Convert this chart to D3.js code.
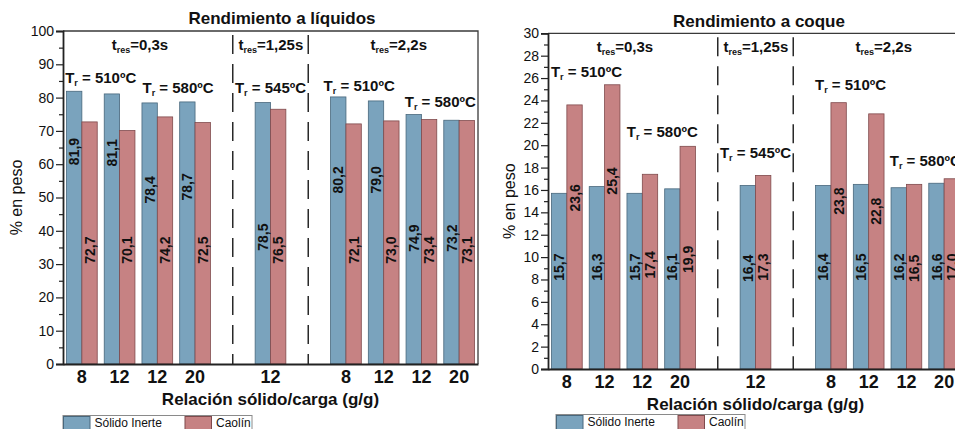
<!DOCTYPE html>
<html>
<head>
<meta charset="utf-8">
<script src="https://cdn.jsdelivr.net/npm/d3@7/dist/d3.min.js"></script>
<style>
  html, body { margin: 0; padding: 0; background: #fff; }
  svg { display: block; font-family: "Liberation Sans", Arial, sans-serif; }
</style>
</head>
<body>
<svg id="chart" width="955" height="429"></svg>
<script>
// ---- data -------------------------------------------------------------
// band slots: four groups at t_res=0,3s, one at 1,25s, four at 2,2s,
// with an empty separator slot between the residence-time blocks
const slots = ["a8", "a12", "b12", "b20", "sep1", "c12", "sep2", "d8", "d12", "e12", "e20"];
const groups = ["a8", "a12", "b12", "b20", "c12", "d8", "d12", "e12", "e20"];
const ratioLabels = ["8", "12", "12", "20", "12", "8", "12", "12", "20"];
const seriesNames = ["Sólido Inerte", "Caolín"];

// yields (% en peso)
const liquidInert = [81.9, 81.1, 78.4, 78.7, 78.5, 80.2, 79.0, 74.9, 73.2];
const liquidKaolin = [72.7, 70.1, 74.2, 72.5, 76.5, 72.1, 73.0, 73.4, 73.1];
const cokeInert = [15.7, 16.3, 15.7, 16.1, 16.4, 16.4, 16.5, 16.2, 16.6];
const cokeKaolin = [23.6, 25.4, 17.4, 19.9, 17.3, 23.8, 22.8, 16.5, 17.0];

// axis ticks
const liquidTicks = d3.range(0, 101, 10);
const liquidMinor = d3.range(5, 100, 10);
const cokeTicks = d3.range(0, 31, 2);
const cokeMinor = d3.range(1, 30, 2);

// where each rotated value label sits along its bar (axis units)
const liquidInertLabelAt = [63.8, 63.4, 52.3, 53.2, 38.1, 55.3, 55.3, 37.8, 37.8];
const liquidKaolinLabelAt = [34.2, 34.2, 34.2, 34.2, 34.2, 34.2, 34.2, 34.2, 34.2];
const cokeInertLabelAt = [9.1, 9.1, 9.1, 9.1, 9.0, 9.1, 9.1, 9.1, 9.1];
const cokeKaolinLabelAt = [15.3, 16.8, 9.3, 9.8, 9.1, 15.0, 14.1, 9.0, 9.1];

// residence-time headers and reactor temperature notes (slot position, axis value)
const liquidHeaders = [
  { t: "0,3s", s: 2.04, v: 94.3 }, { t: "1,25s", s: 5.51, v: 94.3 }, { t: "2,2s", s: 8.9, v: 94.3 }
];
const liquidTemps = [
  { t: "510ºC", s: 1.0, v: 84.4 }, { t: "580ºC", s: 3.05, v: 81.4 },
  { t: "545ºC", s: 5.5, v: 81.5 }, { t: "510ºC", s: 7.85, v: 82.1 }, { t: "580ºC", s: 10.0, v: 77.2 }
];
const cokeHeaders = [
  { t: "0,3s", s: 2.04, v: 28.36 }, { t: "1,25s", s: 5.51, v: 28.36 }, { t: "2,2s", s: 8.9, v: 28.36 }
];
const cokeTemps = [
  { t: "510ºC", s: 1.02, v: 26.1 }, { t: "580ºC", s: 3.03, v: 20.7 },
  { t: "545ºC", s: 5.5, v: 18.9 }, { t: "510ºC", s: 8.02, v: 24.9 }, { t: "580ºC", s: 10.0, v: 18.1 }
];

// ---- drawing ----------------------------------------------------------
const colors = { fill: ["#7aa3bd", "#c68283"], stroke: ["#48677c", "#7f4a4c"] };
const svg = d3.select("#chart");

function panel(cfg) {
  const g = svg.append("g");
  const x = d3.scaleBand().domain(slots).range([cfg.left, cfg.right]).paddingInner(0).paddingOuter(0);
  const sx = d3.scaleLinear().domain([0, slots.length]).range([cfg.left, cfg.right]);
  const y = d3.scaleLinear().domain(cfg.domain).range([cfg.bottom, cfg.top]);
  const barW = x.bandwidth() * 0.407;

  // frame (top and right)
  g.append("path")
    .attr("d", `M${cfg.left},${cfg.top}H${cfg.right}V${cfg.bottom}`)
    .attr("fill", "none").attr("stroke", "#3a3a3a").attr("stroke-width", 1.3);

  // separators between residence-time blocks
  ["sep1", "sep2"].forEach(k => {
    const cx = x(k) + x.bandwidth() / 2;
    g.append("line")
      .attr("x1", cx).attr("x2", cx).attr("y1", cfg.top + 4).attr("y2", cfg.bottom)
      .attr("stroke", "#1a1a1a").attr("stroke-width", 1.4).attr("stroke-dasharray", "19,10");
  });

  // bars
  const series = [cfg.a, cfg.b];
  const labelAt = [cfg.aLabel, cfg.bLabel];
  series.forEach((vals, si) => {
    g.append("g").selectAll("rect").data(vals).join("rect")
      .attr("x", (d, i) => x(groups[i]) + x.bandwidth() / 2 - barW + si * barW)
      .attr("y", d => y(d))
      .attr("width", barW)
      .attr("height", d => y(0) - y(d))
      .attr("fill", colors.fill[si])
      .attr("stroke", colors.stroke[si]).attr("stroke-width", 0.8);
  });
  series.forEach((vals, si) => {
    g.append("g").selectAll("text").data(vals).join("text")
      .attr("transform", (d, i) => {
        const cx = x(groups[i]) + x.bandwidth() / 2 - barW / 2 + si * barW;
        return `translate(${cx},${y(labelAt[si][i])}) rotate(-90)`;
      })
      .attr("text-anchor", "middle").attr("dy", "0.36em")
      .attr("font-size", 14).attr("font-weight", "bold").attr("fill", "#111")
      .text(d => d.toFixed(1).replace(".", ","));
  });

  // y axis
  const yAxis = d3.axisLeft(y).tickValues(cfg.ticks).tickSize(7).tickPadding(2).tickFormat(d3.format("d"));
  const ya = g.append("g").attr("transform", `translate(${cfg.left},0)`).call(yAxis);
  ya.selectAll("text").attr("font-size", 14).attr("fill", "#111").attr("font-family", null);
  ya.select(".domain").attr("stroke", "#222").attr("stroke-width", 1.8);
  ya.selectAll(".tick line").attr("stroke", "#222").attr("stroke-width", 1.2);
  g.append("g").attr("transform", `translate(${cfg.left},0)`)
    .call(d3.axisLeft(y).tickValues(cfg.minor).tickSize(4).tickFormat(""))
    .call(s => s.select(".domain").remove())
    .selectAll("line").attr("stroke", "#222").attr("stroke-width", 1.2);

  // x axis
  const xAxis = d3.axisBottom(x).tickValues(groups).tickSize(0).tickPadding(6)
    .tickFormat(k => ratioLabels[groups.indexOf(k)]);
  const xa = g.append("g").attr("transform", `translate(0,${cfg.bottom})`).call(xAxis);
  xa.selectAll("text").attr("font-size", 18).attr("font-weight", "bold").attr("fill", "#111").attr("font-family", null);
  xa.select(".domain").attr("stroke", "#222").attr("stroke-width", 1.8);

  // titles
  g.append("text").attr("x", cfg.titleX).attr("y", cfg.titleY).attr("text-anchor", "middle")
    .attr("font-size", 17).attr("font-weight", "bold").attr("fill", "#111").text(cfg.title);
  g.append("text").attr("x", (cfg.left + cfg.right) / 2).attr("y", cfg.bottom + 41)
    .attr("text-anchor", "middle")
    .attr("font-size", 17).attr("font-weight", "bold").attr("fill", "#111")
    .text("Relación sólido/carga (g/g)");
  g.append("text")
    .attr("transform", `translate(${cfg.yTitleX},${(cfg.top + cfg.bottom) / 2}) rotate(-90)`)
    .attr("text-anchor", "middle").attr("dy", "0.35em")
    .attr("font-size", 16).attr("fill", "#111").text("% en peso");

  // residence-time headers
  cfg.headers.forEach(h => {
    const t = g.append("text").attr("x", sx(h.s)).attr("y", y(h.v)).attr("text-anchor", "middle")
      .attr("font-size", 15).attr("font-weight", "bold").attr("fill", "#111");
    t.append("tspan").text("t");
    t.append("tspan").attr("font-size", 9).attr("dy", 3).text("res");
    t.append("tspan").attr("dy", -3).text("=" + h.t);
  });
  // reactor temperature notes
  cfg.temps.forEach(h => {
    const t = g.append("text").attr("x", sx(h.s)).attr("y", y(h.v)).attr("text-anchor", "middle")
      .attr("font-size", 15).attr("font-weight", "bold").attr("fill", "#111");
    t.append("tspan").text("T");
    t.append("tspan").attr("font-size", 9).attr("dy", 3).text("r");
    t.append("tspan").attr("dy", -3).text(" = " + h.t);
  });

  // legend
  const lg = g.append("g").attr("transform", `translate(${cfg.legendX},${cfg.legendY})`);
  lg.append("rect").attr("x", 0).attr("y", 0).attr("width", 189).attr("height", 22)
    .attr("fill", "#fff").attr("stroke", "#8a8a8a").attr("stroke-width", 1);
  const items = [{ x: 0, tx: 31.5 }, { x: 121.5, tx: 153 }];
  items.forEach((it, i) => {
    lg.append("rect").attr("x", it.x + 0.5).attr("y", 1).attr("width", 26.5).attr("height", 21)
      .attr("fill", colors.fill[i]).attr("stroke", colors.stroke[i]).attr("stroke-width", 1);
    lg.append("text").attr("x", it.tx).attr("y", 11.5).attr("font-size", 12).attr("fill", "#111")
      .text(seriesNames[i]);
  });
}

panel({
  left: 63, right: 478, top: 31, bottom: 364, domain: [0, 100],
  ticks: liquidTicks, minor: liquidMinor,
  a: liquidInert, b: liquidKaolin, aLabel: liquidInertLabelAt, bLabel: liquidKaolinLabelAt,
  title: "Rendimiento a líquidos", titleX: 282, titleY: 24, yTitleX: 16,
  headers: liquidHeaders, temps: liquidTemps, legendX: 63, legendY: 415.5
});
panel({
  left: 548, right: 963, top: 33.3, bottom: 369, domain: [0, 30],
  ticks: cokeTicks, minor: cokeMinor,
  a: cokeInert, b: cokeKaolin, aLabel: cokeInertLabelAt, bLabel: cokeKaolinLabelAt,
  title: "Rendimiento a coque", titleX: 759, titleY: 27, yTitleX: 509,
  headers: cokeHeaders, temps: cokeTemps, legendX: 556, legendY: 414.5
});
</script>
</body>
</html>
